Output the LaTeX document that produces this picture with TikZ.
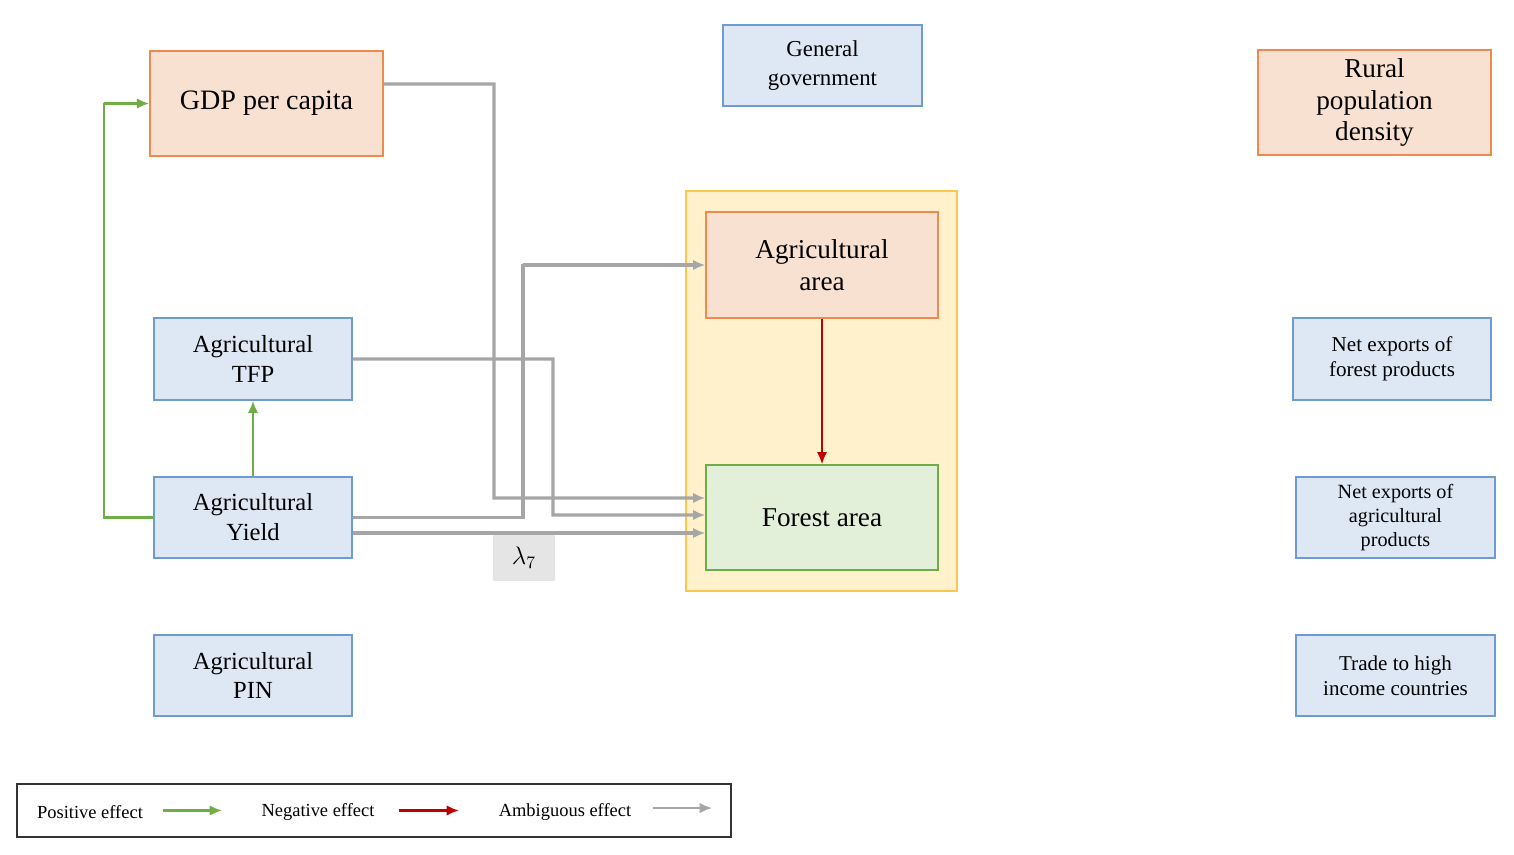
\documentclass[tikz,border=0pt]{standalone}
\usepackage{fontspec}
\setmainfont{Liberation Serif}
\usetikzlibrary{arrows.meta}
\definecolor{bfill}{HTML}{DEE8F4}\definecolor{bdraw}{HTML}{6E9BD0}
\definecolor{ofill}{HTML}{F9E1D1}\definecolor{odraw}{HTML}{EE8A4E}
\definecolor{gfill}{HTML}{E2EFD9}\definecolor{gdraw}{HTML}{70AD47}
\definecolor{yfill}{HTML}{FEF1CC}\definecolor{ydraw}{HTML}{FBC74E}
\definecolor{pos}{HTML}{70AD47}\definecolor{neg}{HTML}{C00000}\definecolor{amb}{HTML}{A6A6A6}
\tikzset{
 box/.style={draw, line width=0.8pt, align=center, inner sep=0pt, font=\fontsize{15.5}{18}\selectfont},
 bbox/.style={box, fill=bfill, draw=bdraw},
 obox/.style={box, fill=ofill, draw=odraw},
 sm/.style={font=\fontsize{12}{14}\selectfont},
 posA/.style={draw=pos, line width=1.6pt, -{Latex[length=7pt,width=6pt]}},
 negA/.style={draw=neg, line width=1.6pt, -{Latex[length=7pt,width=6pt]}},
 ambA/.style={draw=amb, line width=1.8pt, -{Latex[length=7pt,width=6pt]}},
 leg/.style={font=\fontsize{10.5}{12}\selectfont},
}
\newcommand{\bx}[7]{\node[#1, minimum width=#4cm, minimum height=#5cm] (#6) at (#2,#3) {#7};}
\begin{document}
\begin{tikzpicture}
\useasboundingbox (0,0) rectangle (30.28,-17.08);
\node[fill=yfill, draw=ydraw, line width=0.8pt, minimum width=5.42cm, minimum height=8cm, inner sep=0pt] (yel) at (16.43,-7.82) {};
\bx{obox,font=\fontsize{16}{18}\selectfont}{5.33}{-2.07}{4.66}{2.1}{gdp}{GDP per capita}
\bx{bbox,font=\fontsize{13}{16.5}\selectfont}{16.45}{-1.31}{3.98}{1.62}{gov}{General\\government}
\bx{obox}{27.49}{-2.05}{4.66}{2.1}{rural}{Rural\\population\\density}
\bx{obox}{16.44}{-5.3}{4.64}{2.12}{agarea}{Agricultural\\area}
\node[box, fill=gfill, draw=gdraw, minimum width=4.64cm, minimum height=2.1cm] (forest) at (16.44,-10.35) {Forest area};
\bx{bbox,font=\fontsize{14}{17}\selectfont}{5.06}{-7.18}{3.96}{1.64}{tfp}{Agricultural\\TFP}
\bx{bbox,font=\fontsize{14}{17}\selectfont}{5.06}{-10.35}{3.96}{1.62}{yield}{Agricultural\\Yield}
\bx{bbox,font=\fontsize{14}{17}\selectfont}{5.06}{-13.51}{3.96}{1.62}{pin}{Agricultural\\PIN}
\bx{bbox,sm}{27.84}{-7.18}{3.96}{1.64}{nef}{Net exports of\\forest products}
\bx{bbox,font=\fontsize{11.5}{13.5}\selectfont}{27.91}{-10.35}{3.98}{1.62}{nea}{Net exports of\\agricultural\\products}
\bx{bbox,sm}{27.91}{-13.51}{3.98}{1.62}{trade}{Trade to high\\income countries}
\node[fill=black!10, minimum width=1.24cm, minimum height=0.92cm, inner sep=0pt, font=\fontsize{14}{16}\selectfont] (lam) at (10.48,-11.16) {$\lambda_7$};
% arrows
\draw[posA] (yield.west) -| (2.08,-2.06) |- (gdp.west);
\draw[posA] (yield.north) -- (tfp.south);
\draw[negA] (agarea.south) -- (forest.north);
\draw[ambA] ([yshift=.39cm]gdp.east) -| (9.88,-9.96) -- ([yshift=.39cm]forest.west);
\draw[ambA] (tfp.east) -| (11.06,-10.3) -- ([yshift=.05cm]forest.west);
\draw[ambA] (yield.east) -| (10.46,-5.28) |- (agarea.west);
\draw[ambA] ([yshift=-.31cm]yield.east) -- ([yshift=-.31cm]forest.west);
% legend
\node[draw=black!80, line width=0.6pt, minimum width=14.28cm, minimum height=1.06cm, inner sep=0pt] (leg) at (7.48,-16.21) {};
\node[leg] (l1) at (1.8,-16.24) {Positive effect};
\node[leg] (l2) at (6.36,-16.24) {Negative effect};
\node[leg] (l3) at (11.3,-16.24) {Ambiguous effect};
\coordinate (p1) at (3.26,-16.21); \coordinate (p2) at (4.44,-16.21);
\coordinate (n1) at (7.98,-16.21); \coordinate (n2) at (9.18,-16.21);
\coordinate (a1) at (13.06,-16.16); \coordinate (a2) at (14.24,-16.16);
\draw[posA] (p1) -- (p2);
\draw[negA] (n1) -- (n2);
\draw[ambA, line width=1.2pt] (a1) -- (a2);
\end{tikzpicture}
\end{document}
